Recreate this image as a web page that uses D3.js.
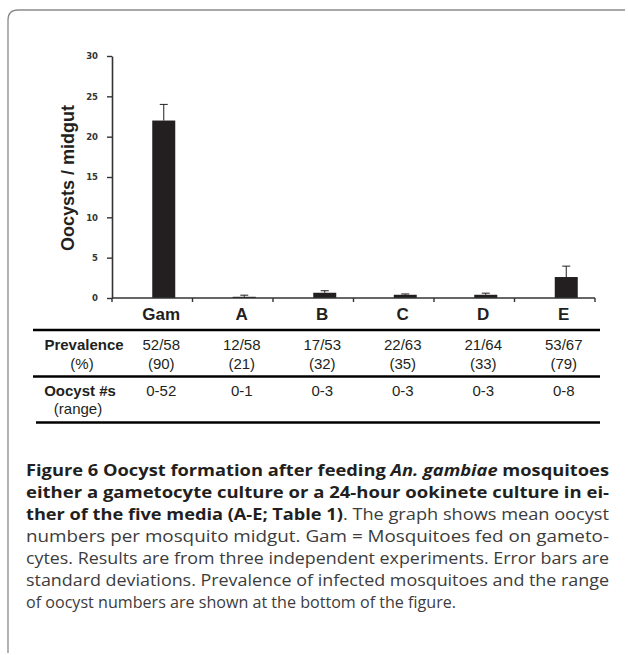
<!DOCTYPE html>
<html>
<head>
<meta charset="utf-8">
<script src="https://cdn.jsdelivr.net/npm/d3@7"></script>
<style>
  body { margin: 0; background: #fff; }
  svg { display: block; }
</style>
</head>
<body>
<svg></svg>
<script>
var width = 628;
var height = 655;

// chart values
var categories = ['Gam', 'A', 'B', 'C', 'D', 'E'];
var meanOocysts = [22, 0.15, 0.65, 0.4, 0.4, 2.6];
var stdDev = [2, 0.2, 0.25, 0.1, 0.2, 1.35];
var yTicks = [0, 5, 10, 15, 20, 25, 30];
var prevalence = ['52/58', '12/58', '17/53', '22/63', '21/64', '53/67'];
var prevalencePct = ['(90)', '(21)', '(32)', '(35)', '(33)', '(79)'];
var oocystRange = ['0-52', '0-1', '0-3', '0-3', '0-3', '0-8'];

var svg = d3.select('svg')
			.attr('width', width)
			.attr('height', height);

// frame (top and left edge, rounded corner)
svg.append('path')
  .attr('d', 'M8,653 L8,20 Q8,10 18,10 L625,10')
  .attr('fill', 'none')
  .attr('stroke', '#8a8a8a')
  .attr('stroke-width', 1.3);

var xScale = d3.scaleBand()
			   .domain(categories)
			   .range([112, 595]);
var yScale = d3.scaleLinear()
			   .domain([0, 30])
			   .range([298, 56]);

var barWidth = 23;
var bw = xScale.bandwidth();

// bars
svg.selectAll('.bar')
  .data(categories)
  .enter()
  .append('rect')
    .classed('bar', true)
    .attr('x', d => xScale(d) + bw / 2)
    .attr('y', (d, i) => yScale(meanOocysts[i]))
    .attr('width', barWidth)
    .attr('height', (d, i) => yScale(0) - yScale(meanOocysts[i]))
    .attr('fill', '#231f20');

// error bars (upper only)
var err = svg.selectAll('.err')
  .data(categories)
  .enter()
  .append('g')
    .classed('err', true)
    .attr('stroke', '#231f20')
    .attr('stroke-width', 1);
err.append('line')
  .attr('x1', d => xScale(d) + bw / 2 + barWidth / 2)
  .attr('x2', d => xScale(d) + bw / 2 + barWidth / 2)
  .attr('y1', (d, i) => yScale(meanOocysts[i]))
  .attr('y2', (d, i) => yScale(meanOocysts[i] + stdDev[i]));
err.append('line')
  .attr('x1', d => xScale(d) + bw / 2 + barWidth / 2 - 4)
  .attr('x2', d => xScale(d) + bw / 2 + barWidth / 2 + 4)
  .attr('y1', (d, i) => yScale(meanOocysts[i] + stdDev[i]))
  .attr('y2', (d, i) => yScale(meanOocysts[i] + stdDev[i]));

// y axis
var yAxis = d3.axisLeft(yScale)
			  .tickValues(yTicks)
			  .tickSize(5)
			  .tickSizeOuter(0)
			  .tickPadding(9);
var gy = svg.append('g')
  .attr('transform', 'translate(112, 0)')
  .call(yAxis);
gy.select('.domain').attr('stroke', '#333').attr('stroke-width', 1.6);
gy.selectAll('.tick line').attr('stroke', '#333').attr('stroke-width', 1.4);
gy.selectAll('.tick text')
  .attr('font-family', 'DejaVu Sans, Verdana, sans-serif')
  .attr('font-weight', 'bold')
  .attr('font-size', 8.5)
  .attr('fill', '#333');

// x axis: ticks at band boundaries
svg.append('line')
  .attr('x1', xScale.range()[0])
  .attr('x2', xScale.range()[1])
  .attr('y1', yScale(0))
  .attr('y2', yScale(0))
  .attr('stroke', '#333')
  .attr('stroke-width', 1.6);
svg.selectAll('.xtick')
  .data(categories.concat(['end']))
  .enter()
  .append('line')
    .classed('xtick', true)
    .attr('x1', (d, i) => xScale.range()[0] + i * bw)
    .attr('x2', (d, i) => xScale.range()[0] + i * bw)
    .attr('y1', yScale(0))
    .attr('y2', yScale(0) + 4)
    .attr('stroke', '#333')
    .attr('stroke-width', 1.4);

svg.append('text')
  .attr('transform', 'translate(74, 178) rotate(-90)')
  .attr('text-anchor', 'middle')
  .attr('font-family', 'Liberation Sans, Arial, sans-serif')
  .attr('font-weight', 'bold')
  .attr('font-size', 18)
  .attr('fill', '#231f20')
  .text('Oocysts / midgut');

// category labels + table
var colX = d => xScale(d) + bw / 2 + 9;
var tableFont = 'Liberation Sans, Arial, sans-serif';

function column(values, y, bold, size) {
	svg.append('g')
	  .selectAll('text')
	  .data(categories)
	  .enter()
	  .append('text')
	    .attr('x', colX)
	    .attr('y', y)
	    .attr('text-anchor', 'middle')
	    .attr('font-family', tableFont)
	    .attr('font-weight', bold ? 'bold' : 'normal')
	    .attr('font-size', size)
	    .attr('fill', '#231f20')
	    .text((d, i) => values[i]);
}

column(categories, 320, true, 17);
column(prevalence, 350, false, 15);
column(prevalencePct, 369, false, 15);
column(oocystRange, 396, false, 15);

var rowLabels = [
	{ text: 'Prevalence', x: 84, y: 350, bold: true },
	{ text: '(%)', x: 82, y: 369, bold: false },
	{ text: 'Oocyst #s', x: 80, y: 396, bold: true },
	{ text: '(range)', x: 78, y: 414, bold: false }
];
svg.selectAll('.rowlabel')
  .data(rowLabels)
  .enter()
  .append('text')
    .classed('rowlabel', true)
    .attr('x', d => d.x)
    .attr('y', d => d.y)
    .attr('text-anchor', 'middle')
    .attr('font-family', tableFont)
    .attr('font-weight', d => d.bold ? 'bold' : 'normal')
    .attr('font-size', 15)
    .attr('fill', '#231f20')
    .text(d => d.text);

svg.selectAll('.rule')
  .data([[33, 330], [33, 376.5], [36, 422.5]])
  .enter()
  .append('line')
    .classed('rule', true)
    .attr('x1', d => d[0])
    .attr('x2', 600)
    .attr('y1', d => d[1])
    .attr('y2', d => d[1])
    .attr('stroke', '#000')
    .attr('stroke-width', 2.6);

// caption
var captionLines = [
	{ parts: [['Figure 6 Oocyst formation after feeding ', 'b'], ['An. gambiae', 'bi'], [' mosquitoes', 'b']], justify: true },
	{ parts: [['either a gametocyte culture or a 24-hour ookinete culture in ei-', 'b']], justify: true },
	{ parts: [['ther of the five media (A-E; Table 1)', 'b'], ['. The graph shows mean oocyst', 'r']], justify: true },
	{ parts: [['numbers per mosquito midgut. Gam = Mosquitoes fed on gameto-', 'r']], justify: true },
	{ parts: [['cytes. Results are from three independent experiments. Error bars are', 'r']], justify: true },
	{ parts: [['standard deviations. Prevalence of infected mosquitoes and the range', 'r']], justify: true },
	{ parts: [['of oocyst numbers are shown at the bottom of the figure.', 'r']], justify: false, len: 430 }
];

var caption = svg.append('g')
  .attr('font-family', 'Open Sans, Noto Sans, sans-serif')
  .attr('font-size', 16);

captionLines.forEach((line, i) => {
	var t = caption.append('text')
	  .attr('x', 26)
	  .attr('y', 476 + i * 22)
	  .attr('textLength', line.justify ? 583 : line.len)
	  .attr('lengthAdjust', 'spacingAndGlyphs');
	line.parts.forEach(p => {
		t.append('tspan')
		  .attr('font-weight', p[1] === 'r' ? 'normal' : 'bold')
		  .attr('font-style', p[1] === 'bi' ? 'italic' : 'normal')
		  .attr('fill', p[1] === 'r' ? '#3c3c3c' : '#231f20')
		  .text(p[0]);
	});
});
</script>
</body>
</html>
